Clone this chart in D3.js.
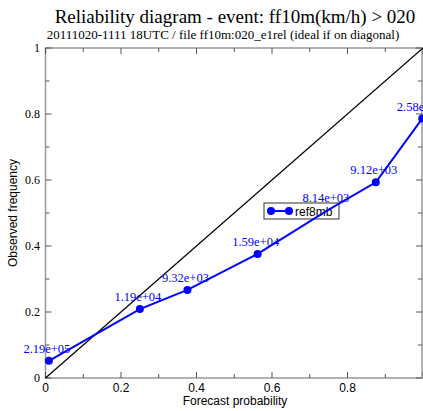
<!DOCTYPE html>
<html>
<head>
<meta charset="utf-8">
<script src="https://cdn.jsdelivr.net/npm/d3@7"></script>
<style>
  body { margin: 0; background: #fff; }
  svg { display: block; }
</style>
</head>
<body>
<div id="chart"></div>
<script>
// chart data
const forecastProb = [0.009, 0.25, 0.376, 0.562, 0.748, 0.875, 0.998];
const observedFreq = [0.052, 0.209, 0.267, 0.376, 0.509, 0.593, 0.786];
const sampleCounts = ['2.19e+05', '1.19e+04', '9.32e+03', '1.59e+04', '8.14e+03', '9.12e+03', '2.58e+04'];
const xTickLabels = ['0', '0.2', '0.4', '0.6', '0.8'];
const yTickLabels = ['0', '0.2', '0.4', '0.6', '0.8', '1'];
const seriesName = 'ref8mb';

const width = 423;
const height = 411;
const margin = {top: 48, right: 0, bottom: 33, left: 45.5};

const svg = d3.select('#chart')
    .append('svg')
    .attr('width', width)
    .attr('height', height);

const x = d3.scaleLinear().domain([0, 1]).range([margin.left, 423]);
const y = d3.scaleLinear().domain([0, 1]).range([height - margin.bottom, margin.top]);

const serif = '"Liberation Serif", "DejaVu Serif", serif';
const sans = '"Liberation Sans", Arial, sans-serif';
const blue = '#0000ff';

// titles
svg.append('text')
    .attr('x', 235).attr('y', 23)
    .attr('text-anchor', 'middle')
    .style('font-family', serif).style('font-size', '19px')
    .text('Reliability diagram - event: ff10m(km/h) > 020');
svg.append('text')
    .attr('x', 223).attr('y', 39)
    .attr('text-anchor', 'middle')
    .style('font-family', serif).style('font-size', '13px')
    .text('20111020-1111 18UTC / file ff10m:020_e1rel (ideal if on diagonal)');

// frame
svg.append('rect')
    .attr('x', x(0)).attr('y', y(1))
    .attr('width', x(1) - x(0) - 1).attr('height', y(0) - y(1))
    .attr('fill', 'none')
    .attr('stroke', '#999')
    .attr('stroke-width', 1.5);

// inward ticks on all sides
const minor = d3.range(0, 11).map(d => d / 10);
const tickColor = '#555';
function tickLen(d) { return Math.round(d * 10) % 2 === 0 ? 6 : 4; }

const axisG = svg.append('g').attr('stroke', tickColor).attr('stroke-width', 1);
minor.forEach(d => {
    // bottom & top
    axisG.append('line').attr('x1', x(d)).attr('x2', x(d)).attr('y1', y(0)).attr('y2', y(0) - tickLen(d));
    axisG.append('line').attr('x1', x(d)).attr('x2', x(d)).attr('y1', y(1)).attr('y2', y(1) + tickLen(d));
    // left & right
    axisG.append('line').attr('y1', y(d)).attr('y2', y(d)).attr('x1', x(0)).attr('x2', x(0) + tickLen(d));
    axisG.append('line').attr('y1', y(d)).attr('y2', y(d)).attr('x1', x(1) - 1).attr('x2', x(1) - 1 - tickLen(d));
});

// tick labels
svg.append('g').selectAll('text')
    .data(xTickLabels)
    .join('text')
    .attr('x', d => x(+d))
    .attr('y', 392)
    .attr('text-anchor', 'middle')
    .style('font-family', sans).style('font-size', '12px')
    .text(d => d);

svg.append('g').selectAll('text')
    .data(yTickLabels)
    .join('text')
    .attr('x', 40)
    .attr('y', d => y(+d) + 4)
    .attr('text-anchor', 'end')
    .style('font-family', serif).style('font-size', '12px')
    .text(d => d);

// axis titles
svg.append('text')
    .attr('x', 235).attr('y', 405)
    .attr('text-anchor', 'middle')
    .style('font-family', sans).style('font-size', '12px')
    .text('Forecast probability');
svg.append('text')
    .attr('transform', 'translate(17,' + y(0.5) + ') rotate(-90)')
    .attr('text-anchor', 'middle')
    .style('font-family', sans).style('font-size', '12px')
    .text('Observed frequency');

// diagonal
svg.append('line')
    .attr('x1', x(0)).attr('y1', y(0))
    .attr('x2', x(1)).attr('y2', y(1))
    .attr('stroke', '#000')
    .attr('stroke-width', 1.3);

const pts = forecastProb.map((p, i) => ({x: p, y: observedFreq[i], n: sampleCounts[i]}));

// markers
svg.append('g').selectAll('circle')
    .data(pts)
    .join('circle')
    .attr('cx', d => x(d.x))
    .attr('cy', d => y(d.y))
    .attr('r', 4)
    .attr('fill', blue);

// legend (drawn over the markers)
const lg = svg.append('g').attr('transform', 'translate(264,203)');
lg.append('rect')
    .attr('width', 75).attr('height', 16)
    .attr('fill', '#fff')
    .attr('stroke', '#333')
    .attr('stroke-width', 1);
lg.append('line')
    .attr('x1', 7).attr('x2', 25).attr('y1', 8).attr('y2', 8)
    .attr('stroke', blue).attr('stroke-width', 2);
lg.selectAll('circle').data([7, 25]).join('circle')
    .attr('cx', d => d).attr('cy', 8).attr('r', 4).attr('fill', blue);
lg.append('text')
    .attr('x', 31).attr('y', 12.5)
    .style('font-family', sans).style('font-size', '12px')
    .text(seriesName);

// series line
svg.append('path')
    .datum(pts)
    .attr('fill', 'none')
    .attr('stroke', blue)
    .attr('stroke-width', 2)
    .attr('d', d3.line().x(d => x(d.x)).y(d => y(d.y)));

// count labels (last one runs off the right edge, as in the original)
svg.append('g').selectAll('text')
    .data(pts)
    .join('text')
    .attr('x', d => x(d.x) - 2)
    .attr('y', d => y(d.y) - 8)
    .attr('text-anchor', 'middle')
    .attr('fill', blue)
    .style('font-family', serif).style('font-size', '12.5px')
    .text(d => d.n);
</script>
</body>
</html>
